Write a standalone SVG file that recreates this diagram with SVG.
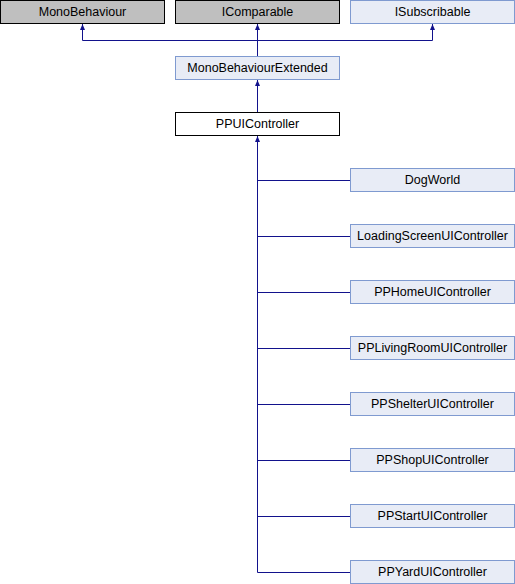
<svg xmlns="http://www.w3.org/2000/svg" width="515" height="584" viewBox="0 0 515 584">
  <style>
    .ext rect { fill: #bfbfbf; stroke: #000000; stroke-width: 1; }
    .cls rect { fill: #e8ecf6; stroke: #7f9ad0; stroke-width: 1; }
    .cur rect { fill: #ffffff; stroke: #000000; stroke-width: 1; }
    text { font-family: "Liberation Sans", Arial, sans-serif; font-size: 12.5px; fill: #000000; text-anchor: middle; }
    .edge { fill: none; stroke: #12128c; stroke-width: 1; }
  </style>
  <defs>
    <!-- small filled head at the base-class end of each inheritance edge -->
    <marker id="inherit" viewBox="0 0 6 5" refX="6" refY="2.5" markerWidth="6" markerHeight="5" markerUnits="userSpaceOnUse" orient="auto-start-reverse">
      <path d="M0,0 L6,2.5 L0,5 Z" fill="#12128c"/>
    </marker>
  </defs>

  <!-- inheritance connectors -->
  <g id="connectors">
    <path class="edge" d="M82.5,30 V40.5 H432.5 V30" />
    <path class="edge" d="M257.5,24 V56" marker-start="url(#inherit)" />
    <path class="edge" d="M82.5,24 V31" marker-start="url(#inherit)" />
    <path class="edge" d="M432.5,24 V31" marker-start="url(#inherit)" />
    <path class="edge" d="M257.5,80 V112" marker-start="url(#inherit)" />
    <path class="edge" d="M257.5,136 V572.5 H350" marker-start="url(#inherit)" />
    <path class="edge" d="M257.5,180.5 H350 M257.5,236.5 H350 M257.5,292.5 H350 M257.5,348.5 H350 M257.5,404.5 H350 M257.5,460.5 H350 M257.5,516.5 H350" />
  </g>

  <g id="MonoBehaviour" class="ext">
    <rect x="0.5" y="0.5" width="164" height="23"/>
    <text x="82.5" y="16">MonoBehaviour</text>
  </g>
  <g id="IComparable" class="ext">
    <rect x="175.5" y="0.5" width="164" height="23"/>
    <text x="257.5" y="16">IComparable</text>
  </g>
  <g id="ISubscribable" class="cls">
    <rect x="350.5" y="0.5" width="164" height="23"/>
    <text x="432.5" y="16">ISubscribable</text>
  </g>
  <g id="MonoBehaviourExtended" class="cls">
    <rect x="175.5" y="56.5" width="164" height="23"/>
    <text x="257.5" y="72">MonoBehaviourExtended</text>
  </g>
  <g id="PPUIController" class="cur">
    <rect x="175.5" y="112.5" width="164" height="23"/>
    <text x="257.5" y="128">PPUIController</text>
  </g>

  <g id="DogWorld" class="cls">
    <rect x="350.5" y="168.5" width="164" height="23"/>
    <text x="432.5" y="184">DogWorld</text>
  </g>
  <g id="LoadingScreenUIController" class="cls">
    <rect x="350.5" y="224.5" width="164" height="23"/>
    <text x="432.5" y="240">LoadingScreenUIController</text>
  </g>
  <g id="PPHomeUIController" class="cls">
    <rect x="350.5" y="280.5" width="164" height="23"/>
    <text x="432.5" y="296">PPHomeUIController</text>
  </g>
  <g id="PPLivingRoomUIController" class="cls">
    <rect x="350.5" y="336.5" width="164" height="23"/>
    <text x="432.5" y="352">PPLivingRoomUIController</text>
  </g>
  <g id="PPShelterUIController" class="cls">
    <rect x="350.5" y="392.5" width="164" height="23"/>
    <text x="432.5" y="408">PPShelterUIController</text>
  </g>
  <g id="PPShopUIController" class="cls">
    <rect x="350.5" y="448.5" width="164" height="23"/>
    <text x="432.5" y="464">PPShopUIController</text>
  </g>
  <g id="PPStartUIController" class="cls">
    <rect x="350.5" y="504.5" width="164" height="23"/>
    <text x="432.5" y="520">PPStartUIController</text>
  </g>
  <g id="PPYardUIController" class="cls">
    <rect x="350.5" y="560.5" width="164" height="23"/>
    <text x="432.5" y="576">PPYardUIController</text>
  </g>
</svg>
